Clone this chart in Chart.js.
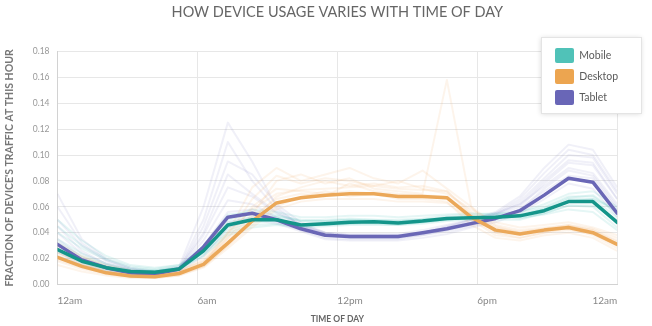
<!DOCTYPE html>
<html><head><meta charset="utf-8">
<script src="https://cdn.jsdelivr.net/npm/chart.js@4"></script>
<style>html,body{margin:0;padding:0;background:#fff}#wrap{width:652px;height:326px;position:relative}</style>
</head><body><div id="wrap"><canvas id="c" width="652" height="326"></canvas></div>
<script>
// ---- data ----
const hours = [0,1,2,3,4,5,6,7,8,9,10,11,12,13,14,15,16,17,18,19,20,21,22,23];
const tickHours = [0,6,12,18,24];
const tickLabels = ['12am','6am','12pm','6pm','12am'];
const yTicks = [0,0.02,0.04,0.06,0.08,0.10,0.12,0.14,0.16,0.18];
const seriesNames = ['Mobile','Desktop','Tablet'];

const mobile  = [0.027,0.018,0.013,0.010,0.0095,0.012,0.026,0.046,0.050,0.050,0.046,0.047,0.048,0.0485,0.0475,0.049,0.051,0.0515,0.052,0.053,0.057,0.064,0.064,0.048];
const desktop = [0.021,0.014,0.009,0.0065,0.006,0.0085,0.0155,0.032,0.049,0.063,0.067,0.069,0.070,0.070,0.068,0.068,0.067,0.052,0.042,0.039,0.042,0.044,0.040,0.031];
const tablet  = [0.031,0.019,0.013,0.009,0.008,0.012,0.029,0.052,0.055,0.050,0.043,0.038,0.037,0.037,0.037,0.040,0.043,0.047,0.051,0.057,0.069,0.082,0.079,0.055];

// faint per-site lines
const mobileF1 = [0.035,0.024,0.016,0.012,0.011,0.014,0.030,0.050,0.054,0.052,0.049,0.050,0.051,0.050,0.050,0.051,0.053,0.054,0.055,0.056,0.060,0.068,0.068,0.055];
const mobileF2 = [0.045,0.030,0.020,0.014,0.012,0.015,0.024,0.040,0.046,0.047,0.045,0.046,0.047,0.047,0.046,0.048,0.050,0.052,0.054,0.056,0.062,0.070,0.072,0.060];
const mobileF3 = [0.022,0.015,0.011,0.009,0.009,0.012,0.028,0.052,0.058,0.056,0.052,0.052,0.053,0.053,0.052,0.053,0.054,0.055,0.054,0.052,0.054,0.058,0.056,0.042];
const mobileF4 = [0.030,0.020,0.014,0.011,0.010,0.012,0.022,0.038,0.044,0.046,0.044,0.045,0.046,0.046,0.046,0.047,0.049,0.050,0.051,0.053,0.058,0.066,0.066,0.052];
const mobileF5 = [0.040,0.028,0.019,0.013,0.011,0.013,0.026,0.044,0.050,0.053,0.050,0.049,0.050,0.049,0.049,0.050,0.051,0.052,0.050,0.050,0.055,0.061,0.061,0.050];
const mobileF6 = [0.050,0.034,0.022,0.015,0.013,0.015,0.028,0.048,0.052,0.050,0.047,0.048,0.049,0.049,0.048,0.050,0.052,0.053,0.053,0.054,0.058,0.064,0.066,0.058];
const mobileF7 = [0.025,0.017,0.012,0.010,0.010,0.013,0.030,0.054,0.056,0.054,0.049,0.049,0.050,0.050,0.049,0.050,0.051,0.052,0.052,0.051,0.055,0.061,0.060,0.044];
const mobileF8 = [0.033,0.022,0.015,0.011,0.010,0.012,0.023,0.042,0.048,0.049,0.046,0.046,0.047,0.048,0.047,0.048,0.050,0.051,0.052,0.054,0.059,0.067,0.069,0.056];

const desktopF1 = [0.025,0.017,0.012,0.009,0.008,0.010,0.020,0.040,0.058,0.070,0.073,0.074,0.075,0.076,0.074,0.073,0.072,0.056,0.045,0.040,0.042,0.043,0.038,0.028];
const desktopF2 = [0.018,0.012,0.008,0.006,0.005,0.007,0.013,0.028,0.044,0.058,0.064,0.066,0.066,0.066,0.064,0.064,0.063,0.050,0.040,0.038,0.041,0.045,0.042,0.034];
const desktopF3 = [0.030,0.021,0.014,0.010,0.009,0.011,0.018,0.036,0.054,0.080,0.085,0.078,0.082,0.074,0.072,0.070,0.158,0.060,0.046,0.042,0.044,0.046,0.043,0.036];
const desktopF4 = [0.015,0.010,0.007,0.005,0.005,0.007,0.014,0.030,0.046,0.060,0.068,0.072,0.068,0.070,0.066,0.066,0.064,0.046,0.036,0.034,0.038,0.040,0.036,0.026];
const desktopF5 = [0.022,0.015,0.010,0.008,0.007,0.009,0.017,0.034,0.052,0.066,0.070,0.068,0.078,0.072,0.070,0.069,0.068,0.054,0.044,0.041,0.043,0.045,0.041,0.032];
const desktopF6 = [0.028,0.018,0.012,0.008,0.007,0.009,0.016,0.040,0.075,0.090,0.080,0.085,0.090,0.082,0.078,0.088,0.074,0.060,0.040,0.036,0.040,0.044,0.040,0.030];
const desktopF7 = [0.024,0.016,0.010,0.007,0.006,0.008,0.014,0.030,0.050,0.068,0.075,0.080,0.076,0.078,0.075,0.076,0.072,0.054,0.043,0.040,0.043,0.046,0.042,0.033];
const desktopF8 = [0.019,0.013,0.009,0.006,0.006,0.008,0.016,0.036,0.060,0.074,0.072,0.070,0.072,0.070,0.069,0.068,0.066,0.050,0.038,0.036,0.040,0.042,0.039,0.030];
const desktopF9 = [0.032,0.022,0.015,0.011,0.009,0.010,0.018,0.038,0.066,0.084,0.078,0.082,0.080,0.076,0.080,0.074,0.070,0.058,0.048,0.044,0.046,0.048,0.044,0.038];

const tabletF1 = [0.040,0.024,0.016,0.011,0.010,0.013,0.040,0.085,0.070,0.056,0.046,0.040,0.039,0.039,0.039,0.042,0.046,0.050,0.055,0.062,0.076,0.090,0.086,0.062];
const tabletF2 = [0.070,0.035,0.020,0.013,0.010,0.014,0.060,0.125,0.095,0.060,0.045,0.038,0.036,0.036,0.036,0.038,0.042,0.048,0.054,0.064,0.082,0.100,0.098,0.070];
const tabletF3 = [0.028,0.017,0.011,0.008,0.007,0.010,0.026,0.048,0.052,0.048,0.042,0.036,0.035,0.035,0.035,0.038,0.041,0.045,0.050,0.058,0.074,0.088,0.084,0.060];
const tabletF4 = [0.035,0.021,0.014,0.010,0.009,0.012,0.034,0.065,0.062,0.052,0.044,0.039,0.037,0.037,0.038,0.040,0.044,0.048,0.053,0.060,0.078,0.094,0.092,0.066];
const tabletF5 = [0.025,0.015,0.010,0.008,0.007,0.010,0.022,0.044,0.050,0.047,0.041,0.035,0.034,0.034,0.034,0.036,0.039,0.044,0.048,0.055,0.066,0.078,0.074,0.052];
const tabletF6 = [0.050,0.030,0.018,0.012,0.010,0.013,0.050,0.110,0.080,0.058,0.046,0.040,0.038,0.038,0.038,0.040,0.044,0.050,0.056,0.068,0.090,0.108,0.104,0.075];
const tabletF7 = [0.060,0.032,0.019,0.012,0.009,0.012,0.045,0.095,0.085,0.062,0.048,0.040,0.038,0.038,0.037,0.040,0.045,0.050,0.055,0.066,0.086,0.104,0.100,0.072];
const tabletF8 = [0.030,0.018,0.012,0.009,0.008,0.011,0.030,0.056,0.058,0.052,0.044,0.038,0.036,0.036,0.036,0.039,0.042,0.046,0.051,0.058,0.072,0.084,0.082,0.058];
const tabletF9 = [0.045,0.026,0.016,0.011,0.009,0.012,0.038,0.075,0.068,0.055,0.046,0.039,0.037,0.037,0.037,0.039,0.043,0.048,0.054,0.062,0.080,0.096,0.094,0.066];

const mobileFaint = [mobileF1,mobileF2,mobileF3,mobileF4,mobileF5,mobileF6,mobileF7,mobileF8];
const desktopFaint = [desktopF1,desktopF2,desktopF3,desktopF4,desktopF5,desktopF6,desktopF7,desktopF8,desktopF9];
const tabletFaint = [tabletF1,tabletF2,tabletF3,tabletF4,tabletF5,tabletF6,tabletF7,tabletF8,tabletF9];

// ---- styles ----
const FONT = 'Lato, "Open Sans", sans-serif';
const lineCol = ['#14958a', '#eba859', '#6a67b6'];
const swatchCol = ['#50c2b8', '#eca550', '#6966b7'];
const faintCol = ['rgba(80,196,186,0.15)', 'rgba(236,168,90,0.12)', 'rgba(106,103,182,0.10)'];

function mainDs(i, data, order) {
  return { label: seriesNames[i], data, xAxisID: 'xd', borderColor: lineCol[i], backgroundColor: swatchCol[i],
    borderWidth: 3.5, pointRadius: 0, tension: 0, fill: false, order, borderJoinStyle: 'round', borderCapStyle: 'round', isMain: true };
}
function faintDs(i, data) {
  return { label: seriesNames[i], data, xAxisID: 'xd', borderColor: faintCol[i], backgroundColor: faintCol[i],
    borderWidth: 2, pointRadius: 0, tension: 0, fill: false, order: 10, borderJoinStyle: 'round', isMain: false };
}
const datasets = [mainDs(0, mobile, 0), mainDs(1, desktop, 1), mainDs(2, tablet, 2)];
desktopFaint.forEach(d => datasets.push(faintDs(1, d)));
mobileFaint.forEach(d => datasets.push(faintDs(0, d)));
tabletFaint.forEach(d => datasets.push(faintDs(2, d)));

const legendPanel = {
  id: 'legendPanel',
  afterLayout(chart) {
    const L = chart.legend; if (!L) return;
    const w = L.width, h = L.height;
    L.left = 549; L.top = 42; L.right = L.left + w; L.bottom = L.top + h;
  },
  beforeDraw(chart) {
    const s = chart.scales.x;
    const items = s.getLabelItems();
    if (items && items.length) items[items.length - 1].options.textAlign = 'right';
  },
  beforeDatasetsDraw(chart) {
    const L = chart.legend; const ctx = chart.ctx;
    ctx.save();
    ctx.shadowColor = 'rgba(0,0,0,0.16)'; ctx.shadowBlur = 5; ctx.shadowOffsetY = 1;
    ctx.fillStyle = '#fff'; ctx.fillRect(541, 37, 100, 76);
    ctx.restore();
    ctx.save(); ctx.strokeStyle = '#e4e4e4'; ctx.lineWidth = 1; ctx.strokeRect(541.5, 37.5, 100, 76); ctx.restore();
    L.draw();
  }
};

new Chart(document.getElementById('c'), {
  type: 'line',
  data: { labels: hours, datasets },
  plugins: [legendPanel],
  options: {
    responsive: false, animation: false, devicePixelRatio: 1,
    layout: { padding: 0 },
    plugins: {
      tooltip: { enabled: false },
      title: { display: true, fullSize: false, text: 'HOW DEVICE USAGE VARIES WITH TIME OF DAY', color: '#666',
        font: { family: FONT, size: 14.5, weight: 'normal' }, padding: { top: 3.5, bottom: 30.5 } },
      legend: {
        position: 'chartArea', align: 'start',
        labels: {
          boxWidth: 19, boxHeight: 15, padding: 6, color: '#5a5a5a', useBorderRadius: true, borderRadius: 2,
          font: { family: FONT, size: 10.5 },
          generateLabels(chart) {
            const items = Chart.defaults.plugins.legend.labels.generateLabels(chart);
            return items.filter(it => chart.data.datasets[it.datasetIndex].isMain)
              .sort((a, b) => a.datasetIndex - b.datasetIndex)
              .map(it => Object.assign(it, { lineWidth: 0, strokeStyle: 'rgba(0,0,0,0)' }));
          }
        }
      }
    },
    scales: {
      x: {
        type: 'linear', min: 0, max: 24,
        afterBuildTicks: s => { s.ticks = tickHours.map(v => ({ value: v })); },
        afterFit: s => { s.height = 41.5; },
        ticks: { align: 'start', padding: 10, color: '#888', maxRotation: 0, autoSkip: false,
          font: { family: FONT, size: 10 }, callback: (v, i) => tickLabels[i] },
        grid: { color: '#e7e7e7', drawTicks: false }, border: { color: '#d2d2d2' },
        title: { display: true, text: 'TIME OF DAY', color: '#666', font: { family: FONT, size: 8.5, weight: 'bold' },
          padding: { top: 0, bottom: 2 } }
      },
      xd: { type: 'linear', min: 0, max: 23, display: false },
      y: {
        min: 0, max: 0.18,
        afterBuildTicks: s => { s.ticks = yTicks.map(v => ({ value: v })); },
        afterFit: s => { s.width = 57.5; },
        ticks: { padding: 8, color: '#999', font: { family: FONT, size: 8.5 }, callback: v => v.toFixed(2) },
        grid: { color: '#e7e7e7', drawTicks: false }, border: { color: '#d2d2d2' },
        title: { display: true, text: "FRACTION OF DEVICE'S TRAFFIC AT THIS HOUR", color: '#777',
          font: { family: FONT, size: 10.5, weight: 'bold' }, padding: { top: 3.5, bottom: 0 } }
      }
    }
  }
});
</script></body></html>
